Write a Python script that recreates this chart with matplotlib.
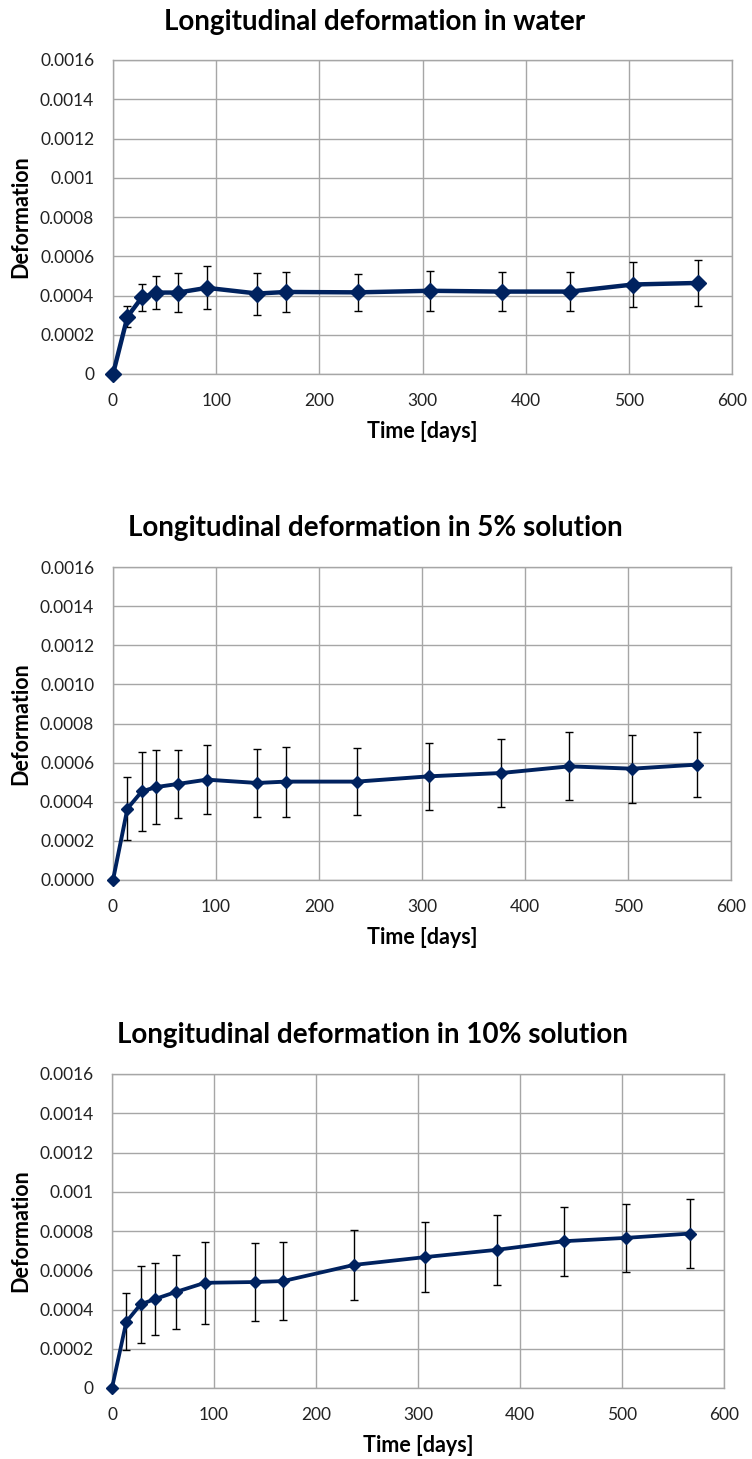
import matplotlib
matplotlib.use("Agg")
import matplotlib.pyplot as plt
from matplotlib.ticker import FixedLocator, FixedFormatter

plt.rcParams['font.family'] = ['Lato', 'DejaVu Sans']

days_water = [0, 14, 28, 42, 63, 91, 140, 168, 237, 307, 377, 443, 504, 567]
def_water = [0, 0.000292, 0.00039, 0.000415, 0.000415, 0.000439, 0.00041, 0.000418,
             0.000416, 0.000424, 0.00042, 0.00042, 0.000456, 0.000464]
err_water = [0, 0.000054, 0.00007, 0.000085, 0.0001, 0.00011, 0.000107, 0.0001,
             0.000094, 0.000103, 0.0001, 0.0001, 0.000116, 0.000117]

days_5 = [0, 14, 28, 42, 63, 91, 140, 168, 237, 307, 377, 443, 504, 567]
def_5 = [0, 0.000365, 0.000453, 0.000475, 0.000491, 0.000513, 0.000496, 0.000503,
         0.000503, 0.00053, 0.000547, 0.000581, 0.000569, 0.00059]
err_5 = [0, 0.000163, 0.0002, 0.00019, 0.000176, 0.000175, 0.000176, 0.000179,
         0.000172, 0.00017, 0.000172, 0.000174, 0.000173, 0.000167]

days_10 = [0, 14, 28, 42, 63, 91, 140, 168, 237, 307, 377, 443, 504, 567]
def_10 = [0, 0.000337, 0.000426, 0.000453, 0.00049, 0.000536, 0.00054, 0.000545,
          0.000627, 0.000667, 0.000704, 0.000748, 0.000765, 0.000787]
err_10 = [0, 0.000145, 0.000195, 0.000185, 0.00019, 0.00021, 0.000197, 0.0002,
          0.000177, 0.000178, 0.00018, 0.000175, 0.000175, 0.000177]

titles = ["Longitudinal deformation in water",
          "Longitudinal deformation in 5% solution",
          "Longitudinal deformation in 10% solution"]
x_ticks = [0, 100, 200, 300, 400, 500, 600]
y_ticks = [0, 0.0002, 0.0004, 0.0006, 0.0008, 0.001, 0.0012, 0.0014, 0.0016]
y_labels_general = ["0", "0.0002", "0.0004", "0.0006", "0.0008", "0.001", "0.0012", "0.0014", "0.0016"]
y_labels_fixed = ["0.0000", "0.0002", "0.0004", "0.0006", "0.0008", "0.0010", "0.0012", "0.0014", "0.0016"]

W, H = 752, 1459
fig = plt.figure(figsize=(W / 100, H / 100), dpi=100)

# axes boxes in pixels: left, top, right, bottom
boxes = [(113, 60, 732, 374), (113, 567, 731, 880), (112, 1074, 724, 1388)]
title_pos = [(375, 22), (375, 528), (372, 1035)]

datasets = [(days_water, def_water, err_water, y_labels_general, 8.5, 3.2),
            (days_5, def_5, err_5, y_labels_fixed, 6, 2.8),
            (days_10, def_10, err_10, y_labels_general, 6, 2.7)]

line_color = "#00225f"
grid_color = "#a6a6a6"

for i, ((l, t, r, b), (xd, yd, ed, ylab, ms, lw)) in enumerate(zip(boxes, datasets)):
    ax = fig.add_axes([l / W, 1 - b / H, (r - l) / W, (b - t) / H])
    ax.errorbar(xd, yd, yerr=ed, fmt='none', ecolor='black', elinewidth=1.0,
                capsize=2.6, capthick=1.0, zorder=2)
    ax.plot(xd, yd, color=line_color, linewidth=lw, marker='D', markersize=ms,
            markeredgecolor=line_color, markerfacecolor=line_color, zorder=3,
            clip_on=False)
    ax.set_xlim(0, 600)
    ax.set_ylim(0, 0.0016)
    ax.xaxis.set_major_locator(FixedLocator(x_ticks))
    ax.set_xticklabels([str(v) for v in x_ticks])
    ax.yaxis.set_major_locator(FixedLocator(y_ticks))
    ax.yaxis.set_major_formatter(FixedFormatter(ylab))
    ax.grid(True, color=grid_color, linewidth=1.0)
    ax.set_axisbelow(True)
    for s in ax.spines.values():
        s.set_color(grid_color)
        s.set_linewidth(1.0)
    ax.tick_params(length=0, labelsize=12.5, colors='#222222')
    ax.tick_params(axis='y', pad=13.5)
    ax.tick_params(axis='x', pad=14)
    tx, ty = title_pos[i]
    fig.text(tx / W, 1 - ty / H, titles[i],
             ha='center', va='center', fontsize=20, fontweight='bold')
    fig.text(0.5 * (l + r) / W, 1 - (b + 57) / H, "Time [days]",
             ha='center', va='center', fontsize=15.5, fontweight='bold')
    fig.text(21 / W, 1 - 0.5 * (t + b) / H, "Deformation", rotation=90,
             ha='center', va='center', fontsize=15.5, fontweight='bold')

fig.savefig("out.png", dpi=100)
